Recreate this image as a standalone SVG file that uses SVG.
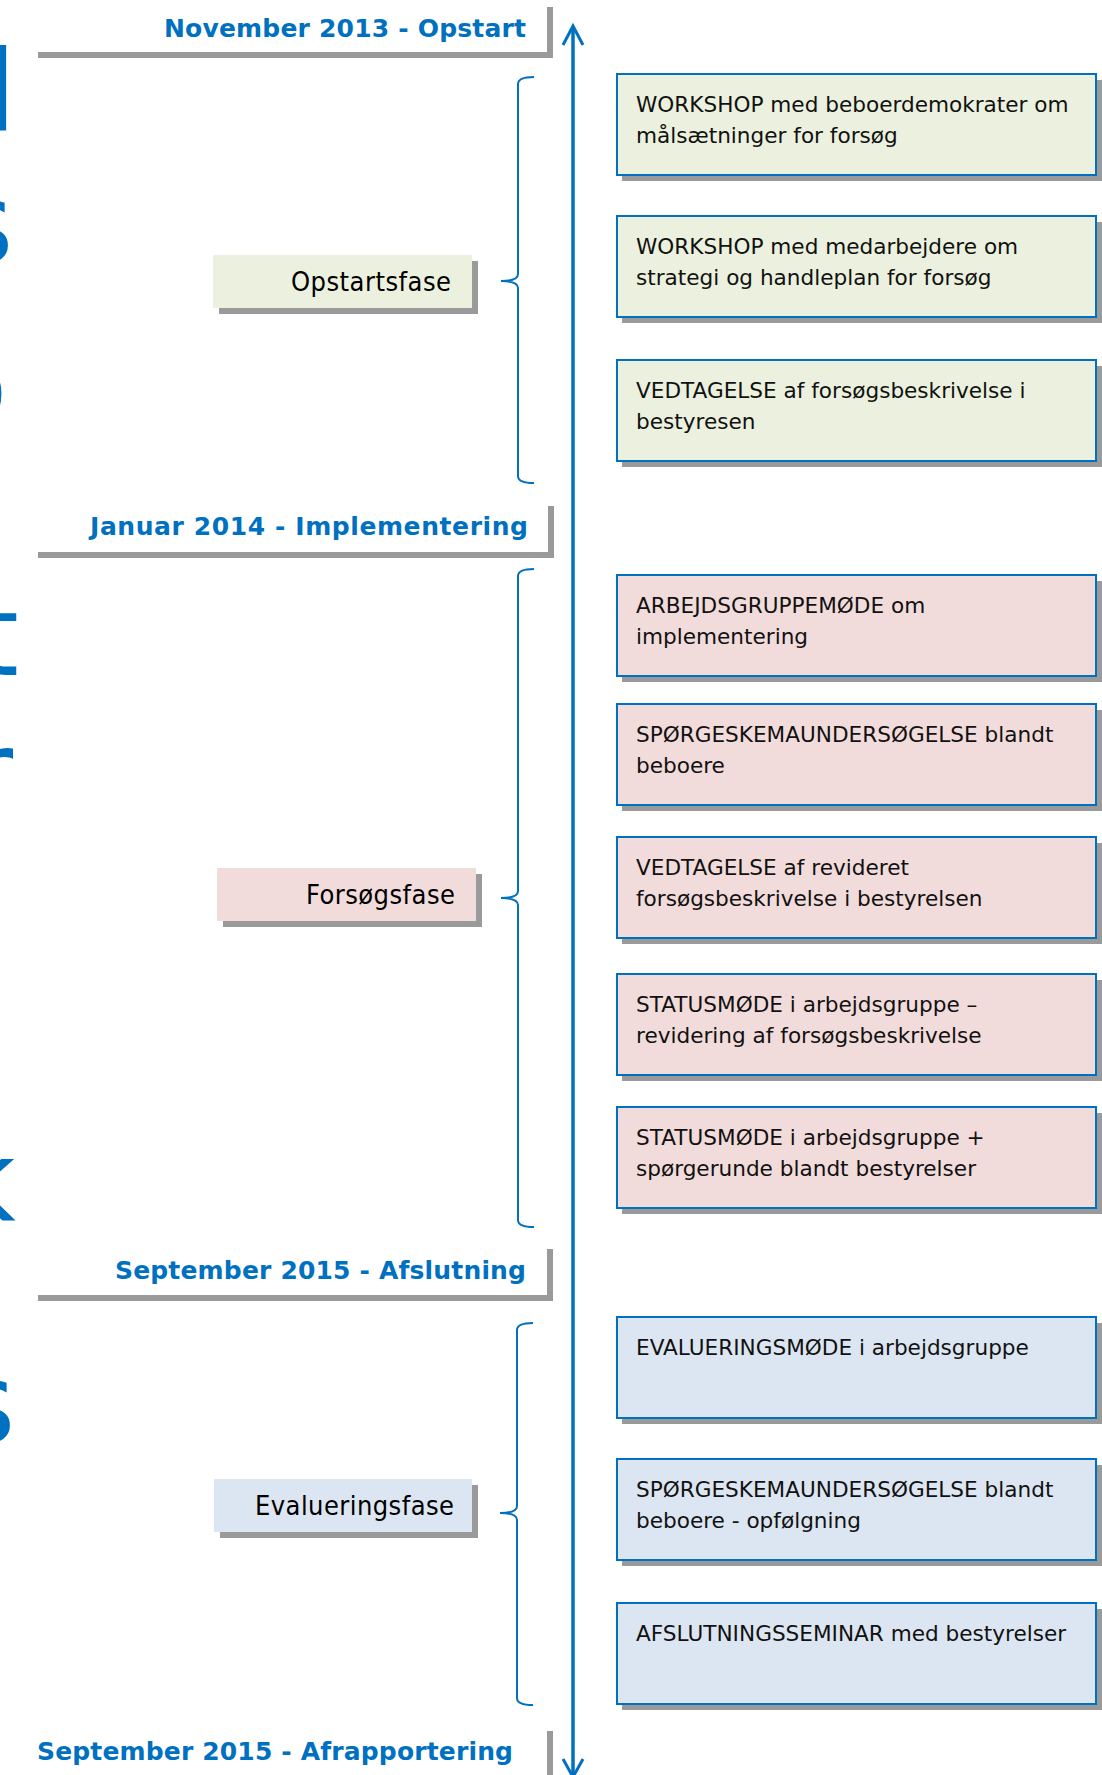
<svg xmlns="http://www.w3.org/2000/svg" width="1102" height="1775" viewBox="0 0 1102 1775">
<style>
.hdr{font-family:"DejaVu Sans",Verdana,sans-serif;font-weight:bold;font-size:25px;fill:#0070C0;text-anchor:end}
.bar{fill:#9A9A9A}
.shadow{fill:#9A9A9A}
.box{stroke:#0070C0;stroke-width:2}
.green{fill:#EBF1DE}
.pink{fill:#F2DCDB}
.blue{fill:#DCE6F2}
.t{font-family:"DejaVu Sans",Verdana,sans-serif;font-size:21.6px;fill:#111}
.ph{font-family:"DejaVu Sans Condensed","DejaVu Sans",sans-serif;font-size:27px;fill:#000;text-anchor:end}
.brace{fill:none;stroke:#0070C0;stroke-width:2}
.big{font-family:"DejaVu Sans",Verdana,sans-serif;font-size:112px;fill:#0070C0}
</style>

<g id="side-letters">
<text class="big" x="-14.6" y="130">l</text>
<text class="big" x="-45" y="262">s</text>
<text class="big" x="-61" y="424">o</text>
<text class="big" x="-25" y="675">t</text>
<text class="big" x="-33" y="811">r</text>
<text class="big" x="-49" y="1220">k</text>
<text class="big" x="-43" y="1442">s</text>
</g>

<g id="hdr-nov2013">
<rect class="bar" x="547" y="7" width="6" height="51"/>
<rect class="bar" x="38" y="52" width="515" height="6"/>
<text class="hdr" x="526" y="37" textLength="362">November 2013 - Opstart</text>
</g>
<g id="hdr-jan2014">
<rect class="bar" x="548" y="506" width="6" height="52"/>
<rect class="bar" x="38" y="552" width="516" height="6"/>
<text class="hdr" x="528" y="535" textLength="438">Januar 2014 - Implementering</text>
</g>
<g id="hdr-sep2015a">
<rect class="bar" x="547" y="1249" width="6" height="52"/>
<rect class="bar" x="38" y="1295" width="515" height="6"/>
<text class="hdr" x="526" y="1279" textLength="411">September 2015 - Afslutning</text>
</g>
<g id="hdr-sep2015b">
<rect class="bar" x="547" y="1731" width="6" height="44"/>
<text class="hdr" x="513" y="1760" textLength="476">September 2015 - Afrapportering</text>
</g>

<g id="connectors">
<line x1="573" y1="27" x2="573" y2="1775" stroke="#0070C0" stroke-width="3.5"/>
<polyline points="563,45 573,26 583,45" fill="none" stroke="#0070C0" stroke-width="3"/>
<polyline points="563,1759 573,1777 583,1759" fill="none" stroke="#0070C0" stroke-width="3"/>
<path class="brace" d="M534,77 Q518,77 518,84 L518,274 Q518,281 501,281 Q518,281 518,288 L518,476 Q518,483 534,483"/>
<path class="brace" d="M534,569 Q518,569 518,576 L518,891 Q518,898 501,898 Q518,898 518,905 L518,1220 Q518,1227 534,1227"/>
<path class="brace" d="M533,1323 Q517,1323 517,1330 L517,1506 Q517,1513 500,1513 Q517,1513 517,1520 L517,1698 Q517,1705 533,1705"/>
</g>

<g id="phase-opstart">
<rect class="shadow" x="219" y="261" width="259" height="53"/>
<rect class="green" x="213" y="255" width="259" height="53"/>
<text class="ph" x="451" y="291" textLength="160">Opstartsfase</text>
</g>
<g id="phase-forsog">
<rect class="shadow" x="223" y="874" width="259" height="53"/>
<rect class="pink" x="217" y="868" width="259" height="53"/>
<text class="ph" x="455" y="904" textLength="149">Forsøgsfase</text>
</g>
<g id="phase-evaluering">
<rect class="shadow" x="220" y="1485" width="258" height="53"/>
<rect class="blue" x="214" y="1479" width="258" height="53"/>
<text class="ph" x="454" y="1515" textLength="199">Evalueringsfase</text>
</g>

<g id="g1"><rect class="shadow" x="622" y="80" width="480" height="101"/><rect class="box green" x="617" y="74" width="479" height="101"/>
<text class="t" x="636" y="112">WORKSHOP med beboerdemokrater om</text><text class="t" x="636" y="143">målsætninger for forsøg</text></g>
<g id="g2"><rect class="shadow" x="622" y="222" width="480" height="101"/><rect class="box green" x="617" y="216" width="479" height="101"/>
<text class="t" x="636" y="254">WORKSHOP med medarbejdere om</text><text class="t" x="636" y="285">strategi og handleplan for forsøg</text></g>
<g id="g3"><rect class="shadow" x="622" y="366" width="480" height="101"/><rect class="box green" x="617" y="360" width="479" height="101"/>
<text class="t" x="636" y="398">VEDTAGELSE af forsøgsbeskrivelse i</text><text class="t" x="636" y="429">bestyresen</text></g>

<g id="p1"><rect class="shadow" x="622" y="581" width="480" height="101"/><rect class="box pink" x="617" y="575" width="479" height="101"/>
<text class="t" x="636" y="613">ARBEJDSGRUPPEMØDE om</text><text class="t" x="636" y="644">implementering</text></g>
<g id="p2"><rect class="shadow" x="622" y="710" width="480" height="101"/><rect class="box pink" x="617" y="704" width="479" height="101"/>
<text class="t" x="636" y="742">SPØRGESKEMAUNDERSØGELSE blandt</text><text class="t" x="636" y="773">beboere</text></g>
<g id="p3"><rect class="shadow" x="622" y="843" width="480" height="101"/><rect class="box pink" x="617" y="837" width="479" height="101"/>
<text class="t" x="636" y="875">VEDTAGELSE af revideret</text><text class="t" x="636" y="906">forsøgsbeskrivelse i bestyrelsen</text></g>
<g id="p4"><rect class="shadow" x="622" y="980" width="480" height="101"/><rect class="box pink" x="617" y="974" width="479" height="101"/>
<text class="t" x="636" y="1012">STATUSMØDE i arbejdsgruppe –</text><text class="t" x="636" y="1043">revidering af forsøgsbeskrivelse</text></g>
<g id="p5"><rect class="shadow" x="622" y="1113" width="480" height="101"/><rect class="box pink" x="617" y="1107" width="479" height="101"/>
<text class="t" x="636" y="1145">STATUSMØDE i arbejdsgruppe +</text><text class="t" x="636" y="1176">spørgerunde blandt bestyrelser</text></g>

<g id="b1"><rect class="shadow" x="622" y="1323" width="480" height="101"/><rect class="box blue" x="617" y="1317" width="479" height="101"/>
<text class="t" x="636" y="1355">EVALUERINGSMØDE i arbejdsgruppe</text></g>
<g id="b2"><rect class="shadow" x="622" y="1465" width="480" height="101"/><rect class="box blue" x="617" y="1459" width="479" height="101"/>
<text class="t" x="636" y="1497">SPØRGESKEMAUNDERSØGELSE blandt</text><text class="t" x="636" y="1528">beboere - opfølgning</text></g>
<g id="b3"><rect class="shadow" x="622" y="1609" width="480" height="101"/><rect class="box blue" x="617" y="1603" width="479" height="101"/>
<text class="t" x="636" y="1641">AFSLUTNINGSSEMINAR med bestyrelser</text></g>
</svg>
